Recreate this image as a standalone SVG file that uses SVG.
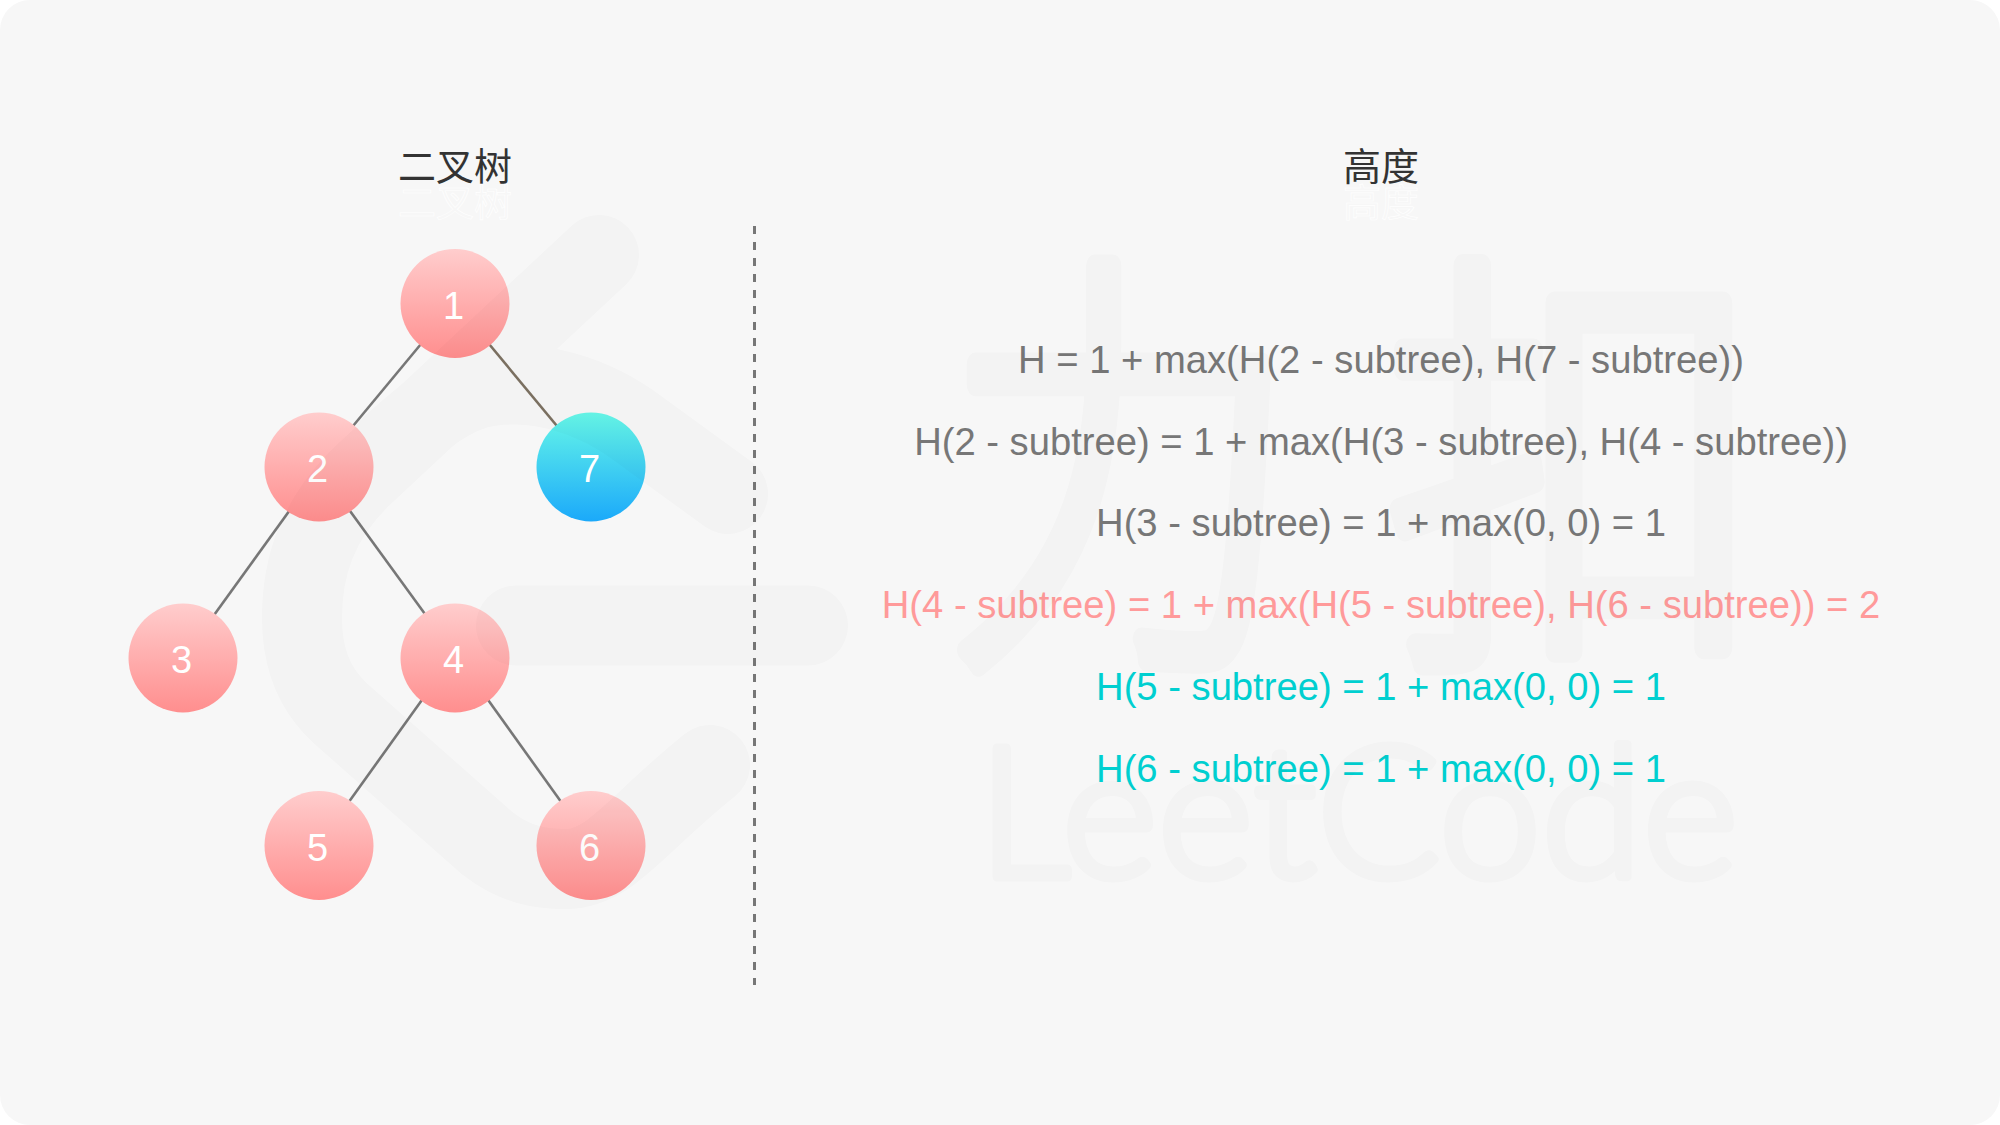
<svg xmlns="http://www.w3.org/2000/svg" width="2000" height="1125" viewBox="0 0 2000 1125">
<style>
.edge{stroke:#777;stroke-width:2.6;fill:none}
.node circle{fill:url(#pink)}
.num{font:38px "Liberation Sans",Arial,sans-serif;fill:#fff;text-anchor:middle}
.title{font:38px "Noto Sans CJK SC","Liberation Sans",sans-serif;fill:#333;text-anchor:middle}
.ghost{font:38px "Noto Sans CJK SC","Liberation Sans",sans-serif;fill:none;stroke:#fff;stroke-width:.6;text-anchor:middle}
.f{font:38.2px "Liberation Sans",Arial,sans-serif;text-anchor:middle}
.g{fill:#777}.p{fill:#ff9a9a}.c{fill:#00cfd0}
.wm path{fill:none;stroke:#000;stroke-width:80;stroke-linecap:round;stroke-linejoin:round}
.wmt{font-family:"Noto Sans CJK SC",sans-serif;font-weight:300;font-size:440px;fill:#000;stroke:#000;stroke-width:22;stroke-linejoin:round;stroke-linecap:round}
</style>
<defs>
<linearGradient id="pink" x1="0" y1="0" x2="0" y2="1"><stop offset="0" stop-color="#ffcdcd"/><stop offset="1" stop-color="#ff8e8e"/></linearGradient>
<linearGradient id="blue" x1="0" y1="0" x2="0" y2="1"><stop offset="0" stop-color="#66f7e8"/><stop offset="1" stop-color="#1ba9fa"/></linearGradient>
</defs>
<rect width="2000" height="1125" fill="#fff"/>
<rect id="bg" width="2000" height="1125" rx="30" fill="#f7f7f7"/>
<text class="title" x="455" y="180">二叉树</text>
<text class="ghost" x="455" y="216">二叉树</text>
<text class="title" x="1381" y="180">高度</text>
<text class="ghost" x="1381" y="216">高度</text>
<g id="connectors">
<line class="edge" x1="455" y1="303" x2="319" y2="467"/>
<line class="edge" style="stroke:#7c7162" x1="455" y1="303" x2="591" y2="467"/>
<line class="edge" x1="321" y1="467" x2="183" y2="658"/>
<line class="edge" x1="318" y1="467" x2="457" y2="658"/>
<line class="edge" x1="452" y1="658" x2="318" y2="845"/>
<line class="edge" x1="458" y1="658" x2="592" y2="845"/>
<line id="divider" x1="754.5" y1="226" x2="754.5" y2="985" stroke="#777" stroke-width="3" stroke-dasharray="8 8"/>
</g>
<g id="n1" class="node"><circle cx="455" cy="303.500" r="54.5"/><text class="num" x="453.500" y="319">1</text></g>
<g id="n2" class="node"><circle cx="319" cy="467" r="54.5"/><text class="num" x="317.500" y="481.500">2</text></g>
<g id="n7" class="node"><circle cx="591" cy="467" r="54.5" style="fill:url(#blue)"/><text class="num" x="589.500" y="481.500">7</text></g>
<g id="n3" class="node"><circle cx="183" cy="658" r="54.5"/><text class="num" x="181.500" y="672.500">3</text></g>
<g id="n4" class="node"><circle cx="455" cy="658" r="54.5"/><text class="num" x="453.500" y="672.500">4</text></g>
<g id="n5" class="node"><circle cx="319" cy="845.500" r="54.5"/><text class="num" x="317.500" y="860.500">5</text></g>
<g id="n6" class="node"><circle cx="591" cy="845.500" r="54.5"/><text class="num" x="589.500" y="860.500">6</text></g>
<g id="formulas">
<text class="f g" x="1381" y="372.700">H = 1 + max(H(2 - subtree), H(7 - subtree))</text>
<text class="f g" x="1381" y="454.500">H(2 - subtree) = 1 + max(H(3 - subtree), H(4 - subtree))</text>
<text class="f g" x="1381" y="536">H(3 - subtree) = 1 + max(0, 0) = 1</text>
<text class="f p" x="1381" y="618">H(4 - subtree) = 1 + max(H(5 - subtree), H(6 - subtree)) = 2</text>
<text class="f c" x="1381" y="700">H(5 - subtree) = 1 + max(0, 0) = 1</text>
<text class="f c" x="1381" y="781.700">H(6 - subtree) = 1 + max(0, 0) = 1</text>
</g>
<g id="watermark" class="wm" opacity=".016">
<path d="M599 255 L360 478 C318 520 302 565 302 618 C302 655 312 687 340 713 L487 843 C515 865 540 869 566 869 C610 869 635 825 710 765"/>
<path d="M728 494 L640 430 C590 392 535 380 490 386 C450 392 420 420 390 447"/>
<path d="M516 625.500 H808"/>
<text class="wmt" transform="translate(945 632) scale(.8 1)">力</text>
<text class="wmt" transform="translate(1385 632) scale(.87 1)">扣</text>
<text x="978" y="877" font-family="Lato,sans-serif" font-weight="300" font-size="182" textLength="760" fill="#000" stroke="#000" stroke-width="9" stroke-linejoin="round">LeetCode</text>
</g>
</svg>
